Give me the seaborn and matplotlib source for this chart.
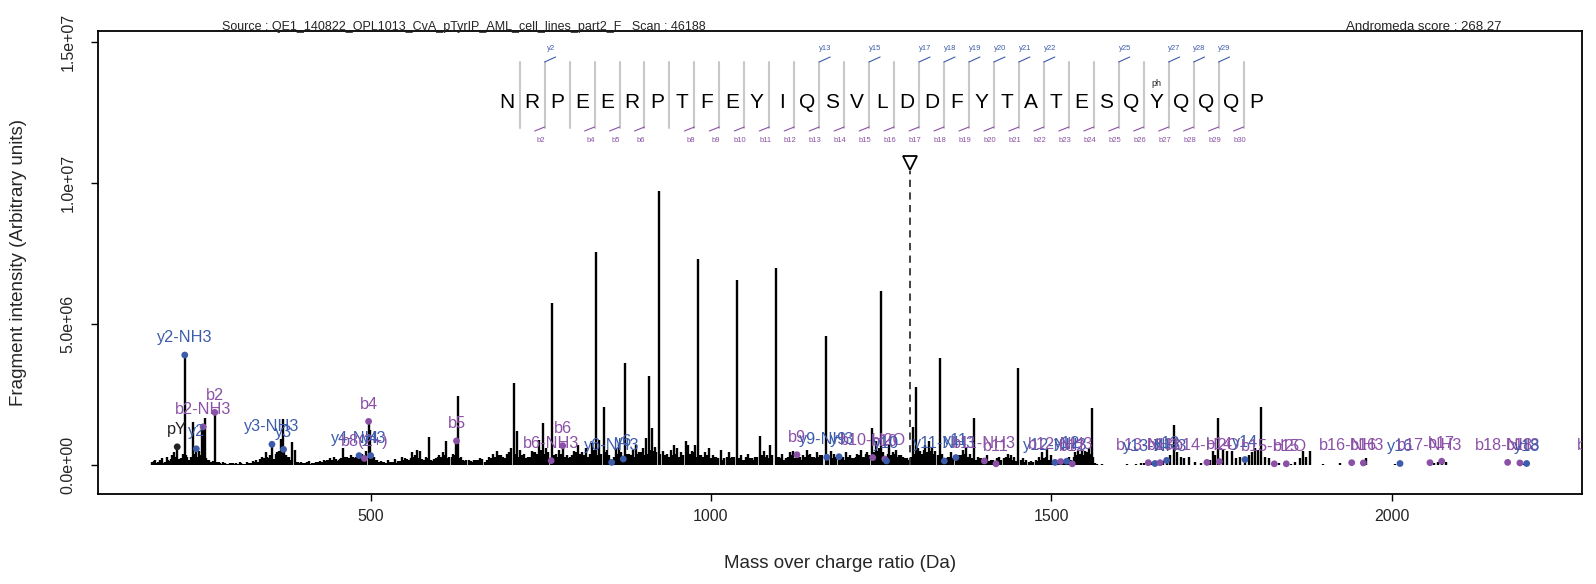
"""
Annotated MS/MS spectrum — phospho-peptide NRPEERPTFEYIQSVLDDFYTATESQpYQQQP
"""

import numpy as np
import pandas as pd
import matplotlib
matplotlib.use("Agg")
import matplotlib.pyplot as plt
import seaborn as sns


# ─────────────────────────────────────────────
#  DATA
# ─────────────────────────────────────────────

source_text = "Source : QE1_140822_OPL1013_CvA_pTyrIP_AML_cell_lines_part2_F   Scan : 46188"
score_text = "Andromeda score : 268.27"

sequence = list("NRPEERPTFEYIQSVLDDFYTATESQYQQQP")
phospho_site = 27                     # residue carrying "ph"
y_sites = [2, 13, 15, 17, 18, 19, 20, 21, 22, 25, 27, 28, 29]
b_sites = [2, 4, 5, 6] + list(range(8, 31))

precursor_mz = 1292.4
precursor_top = 1.04e7

# big unlabelled fragment peaks (m/z, intensity in 1e6)
major_mz = [239.7, 252.5, 256.5, 368.5, 371.5, 385.0, 389.0, 459.0, 499.0, 569.0,
            573.0, 586.0, 611.0, 628.5, 710.4, 715.0, 753.0, 766.6, 830.8, 842.5,
            874.3, 909.6, 914.0, 923.8, 946.0, 963.0, 967.0, 980.6, 1015.0, 1038.0,
            1072.7, 1087.0, 1095.3, 1169.0, 1237.0, 1250.4, 1297.0, 1301.0, 1336.2, 1387.0,
            1451.3, 1486.0, 1494.0, 1550.0, 1555.0, 1559.5, 1680.3, 1690.0, 1737.0, 1744.6,
            1758.0, 1800.0, 1808.7, 1870.0]
major_int = [1.54, 1.40, 1.67, 0.94, 1.62, 0.83, 0.54, 0.60, 1.25, 0.55,
             0.50, 1.00, 0.85, 2.45, 2.90, 1.20, 1.50, 5.73, 7.56, 2.05,
             3.63, 3.16, 1.30, 9.72, 0.70, 0.85, 0.70, 7.29, 0.55, 6.56,
             1.05, 0.70, 6.97, 4.57, 1.30, 6.18, 1.35, 2.76, 3.81, 1.68,
             3.43, 0.45, 0.60, 0.50, 0.60, 2.01, 1.42, 0.30, 0.50, 1.66,
             0.50, 0.60, 2.07, 0.50]

# small background peaks (m/z, intensity in 1e6)
noise_mz = [180, 183, 186, 190, 194, 198, 201, 205, 209, 212,
            219, 224, 231, 235, 248, 259, 263, 266, 275, 279,
            283, 288, 293, 298, 303, 308, 312, 318, 323, 327,
            332, 337, 341, 346, 350, 361, 365, 376, 380, 393,
            398, 404, 409, 414, 420, 426, 431, 436, 441, 446,
            451, 455, 463, 467, 471, 476, 479, 487, 494, 505,
            509, 515, 520, 526, 531, 536, 541, 546, 551, 556,
            561, 565, 577, 581, 591, 596, 601, 606, 616, 621,
            633, 638, 644, 650, 655, 661, 668, 674, 680, 686,
            692, 697, 703, 707, 720, 726, 731, 737, 742, 748,
            758, 772, 777, 788, 793, 799, 805, 811, 816, 822,
            826, 835, 848, 860, 865, 880, 885, 890, 895, 900,
            905, 918, 930, 936, 941, 951, 956, 972, 976, 986,
            992, 997, 1003, 1008, 1020, 1026, 1031, 1045, 1050, 1055,
            1060, 1065, 1078, 1082, 1100, 1105, 1110, 1116, 1121, 1131,
            1136, 1141, 1146, 1151, 1156, 1161, 1176, 1181, 1194, 1199,
            1205, 1210, 1215, 1220, 1225, 1230, 1243, 1247, 1262, 1267,
            1272, 1277, 1282, 1288, 1305, 1310, 1315, 1320, 1325, 1330,
            1340, 1348, 1353, 1365, 1370, 1375, 1380, 1392, 1397, 1406,
            1411, 1424, 1430, 1436, 1441, 1446, 1458, 1463, 1470, 1478,
            1482, 1490, 1499, 1509, 1518, 1526, 1535, 1540, 1545, 1565,
            1575, 1612, 1625, 1632, 1637, 1647, 1664, 1674, 1685, 1695,
            1702, 1712, 1720, 1733, 1740, 1752, 1765, 1772, 1778, 1790,
            1795, 1804, 1814, 1820, 1835, 1852, 1858, 1865, 1874, 1880,
            1900, 1925, 1962, 2005, 2063, 2068, 2080, 2195]
noise_int = [.12, .20, .08, .18, .25, .10, .30, .15, .35, .45,
             .22, .40, .28, .15, .50, .25, .18, .12, .10, .08,
             .12, .06, .09, .07, .08, .10, .06, .12, .07, .15,
             .20, .22, .30, .45, .25, .40, .50, .35, .30, .12,
             .10, .08, .14, .09, .12, .15, .18, .20, .25, .30,
             .15, .22, .30, .20, .35, .25, .28, .40, .50, .30,
             .20, .15, .12, .18, .10, .22, .14, .30, .25, .20,
             .45, .35, .20, .30, .15, .25, .35, .45, .28, .40,
             .30, .15, .20, .12, .18, .25, .10, .30, .40, .50,
             .35, .25, .45, .60, .55, .40, .30, .50, .45, .90,
             .60, .40, .55, .35, .30, .50, .70, .45, .60, .40,
             .80, .90, .55, .60, .75, .40, .55, .70, .45, .60,
             .95, .65, .50, .40, .55, .60, .45, .50, .70, .35,
             .45, .60, .35, .30, .25, .45, .30, .35, .20, .40,
             .25, .30, .50, .35, .30, .40, .25, .45, .50, .30,
             .35, .55, .40, .30, .45, .35, .50, .40, .30, .45,
             .35, .25, .40, .55, .30, .45, .85, .60, .70, .45,
             .55, .35, .30, .25, .60, .40, .70, .85, .65, .50,
             .40, .30, .45, .35, .55, .65, .40, .30, .25, .35,
             .20, .30, .25, .40, .35, .30, .25, .20, .15, .20,
             .30, .25, .35, .15, .20, .30, .45, .50, .55, .08,
             .06, .05, .06, .07, .08, .10, .15, .35, .45, .25,
             .30, .10, .08, .20, .35, .55, .50, .25, .30, .35,
             .45, .55, .30, .25, .08, .06, .10, .25, .30, .50,
             .06, .08, .25, .05, .08, .10, .12, .06]

# denser low-level floor between the peaks above
floor_mz = [178.5, 181.5, 188, 192, 196, 203, 207, 214, 221, 229,
            233, 237, 242, 246, 250, 261, 268, 270, 273, 277,
            281, 286, 291, 296, 301, 306, 310, 315, 320, 325,
            330, 335, 339, 344, 348, 353, 358, 363, 378, 383,
            391, 396, 401, 406, 411, 417, 423, 429, 434, 439,
            444, 449, 453, 457, 461, 465, 469, 474, 481, 485,
            489, 503, 507, 512, 518, 523, 529, 534, 539, 544,
            549, 554, 559, 563, 567, 571, 575, 579, 584, 589,
            594, 599, 603, 608, 614, 619, 624, 631, 636, 641,
            647, 652, 658, 664, 671, 677, 683, 689, 694, 700,
            705, 712, 718, 723, 729, 734, 740, 745, 750, 756,
            761, 769, 775, 780, 785, 791, 796, 802, 808, 813,
            819, 824, 828, 833, 838, 845, 851, 857, 862, 868,
            877, 882, 887, 892, 898, 902, 907, 911, 916, 920,
            926, 933, 938, 943, 949, 953, 959, 969, 974, 978,
            983, 989, 994, 1000, 1006, 1011, 1018, 1023, 1028, 1034,
            1041, 1047, 1052, 1057, 1062, 1068, 1075, 1080, 1085, 1090,
            1098, 1103, 1108, 1113, 1119, 1124, 1129, 1134, 1139, 1144,
            1149, 1154, 1159, 1164, 1172, 1179, 1184, 1191, 1197, 1202,
            1207, 1213, 1218, 1223, 1228, 1233, 1240, 1245, 1253, 1260,
            1265, 1270, 1275, 1280, 1285, 1290, 1294, 1299, 1303, 1308,
            1313, 1318, 1323, 1328, 1333, 1338, 1345, 1350, 1356, 1362,
            1368, 1373, 1378, 1383, 1390, 1395, 1400, 1404, 1409, 1414,
            1421, 1427, 1433, 1439, 1444, 1449, 1455, 1461, 1467, 1473,
            1480, 1484, 1488, 1492, 1497, 1502, 1507, 1512, 1516, 1520,
            1524, 1529, 1533, 1538, 1543, 1548, 1553, 1557, 1562, 1568]
floor_int = [.10, .15, .12, .20, .08, .18, .22, .30, .25, .35,
             .20, .28, .40, .30, .35, .20, .15, .10, .08, .12,
             .06, .08, .05, .07, .06, .05, .08, .06, .09, .07,
             .12, .10, .18, .25, .30, .35, .22, .45, .28, .20,
             .10, .08, .07, .10, .06, .09, .12, .10, .14, .18,
             .20, .22, .18, .25, .20, .28, .24, .30, .25, .35,
             .30, .25, .18, .12, .10, .08, .12, .10, .08, .15,
             .18, .22, .25, .28, .30, .25, .22, .18, .25, .20,
             .22, .28, .30, .35, .25, .30, .35, .25, .20, .18,
             .15, .20, .18, .22, .20, .25, .30, .35, .30, .40,
             .35, .40, .30, .35, .25, .30, .45, .40, .55, .40,
             .45, .35, .30, .40, .30, .25, .35, .45, .40, .35,
             .30, .40, .55, .35, .40, .45, .35, .30, .40, .45,
             .40, .35, .30, .40, .45, .35, .40, .55, .50, .45,
             .40, .35, .30, .35, .40, .30, .35, .40, .45, .30,
             .35, .30, .35, .25, .30, .25, .20, .30, .25, .30,
             .25, .20, .30, .25, .20, .30, .35, .30, .25, .35,
             .30, .25, .20, .30, .35, .25, .30, .20, .30, .35,
             .30, .25, .30, .35, .30, .25, .30, .25, .20, .30,
             .25, .30, .35, .30, .40, .35, .45, .50, .45, .40,
             .35, .40, .30, .35, .25, .20, .30, .40, .45, .50,
             .55, .45, .50, .40, .35, .30, .25, .30, .25, .30,
             .35, .40, .30, .25, .20, .25, .20, .18, .15, .20,
             .25, .20, .30, .25, .20, .15, .18, .12, .10, .12,
             .15, .20, .25, .30, .20, .15, .12, .18, .15, .20,
             .25, .20, .30, .35, .40, .35, .45, .40, .30, .06]

# matched fragment ions
ion_labels = ["pY", "y2-NH3", "y2", "b2-NH3", "b2", "y3-NH3", "y3", "y4-NH3", "b8(2+)", "b4",
              "y4", "b5", "b6-NH3", "b6", "y6-NH3", "y6", "b9", "y9-NH3", "y9", "b10-H2O",
              "b10", "y10", "y11-NH3", "y11", "b11-NH3", "b11", "y12-NH3", "b12-NH3", "y12", "b12",
              "b13-NH3", "y13-NH3", "b13", "y13", "b14-H2O", "b14", "y14", "b15-H2O", "b15", "b16-NH3",
              "b16", "y16", "b17-NH3", "b17", "b18-NH3", "b18", "y18", "b19"]
ion_mz = [216.0, 227.1, 244.1, 254.1, 271.2, 355.2, 372.2, 483.2, 491.0, 497.2,
          500.3, 626.3, 765.4, 782.4, 854.3, 871.3, 1126.5, 1170.4, 1188.3, 1237.8,
          1255.6, 1258.0, 1343.0, 1360.0, 1401.8, 1419.0, 1505.6, 1514.0, 1522.8, 1531.0,
          1642.7, 1652.5, 1660.0, 1669.6, 1728.8, 1747.0, 1784.7, 1827.8, 1845.4, 1941.5,
          1958.6, 2012.5, 2056.5, 2073.7, 2170.6, 2188.6, 2198.5, 2292.0]
ion_int = [0.65, 3.90, 0.58, 1.36, 1.87, 0.74, 0.56, 0.34, 0.24, 1.55,
           0.34, 0.86, 0.16, 0.69, 0.10, 0.22, 0.37, 0.28, 0.30, 0.27,
           0.22, 0.15, 0.15, 0.27, 0.15, 0.05, 0.10, 0.13, 0.14, 0.05,
           0.09, 0.06, 0.09, 0.17, 0.10, 0.13, 0.20, 0.05, 0.05, 0.09,
           0.08, 0.06, 0.09, 0.14, 0.10, 0.08, 0.06, 0.08]

x_ticks = [500, 1000, 1500, 2000]
y_ticks = [0, 5e6, 1e7, 1.5e7]
y_tick_labels = ["0.0e+00", "5.0e+06", "1.0e+07", "1.5e+07"]


# ─────────────────────────────────────────────
#  STYLE
# ─────────────────────────────────────────────

BLUE = "#3d5cab"
PURPLE = "#8b51a7"
ION_COLORS = {"y": BLUE, "b": PURPLE, "i": "#222222"}
W, H = 1596, 584

sns.set_style("white")
plt.rcParams["font.family"] = ["Liberation Sans", "DejaVu Sans"]


def kind_of(label):
    if label.startswith("y"):
        return "y"
    if label.startswith("b"):
        return "b"
    return "i"


def fig_xy(px, py):
    """Pixel position in the 1596x584 picture -> figure fraction."""
    return px / W, 1 - py / H


ions = pd.DataFrame({
    "label": ion_labels,
    "mz": ion_mz,
    "intensity": np.array(ion_int) * 1e6,
})
ions["kind"] = ions["label"].map(kind_of)

peak_mz = np.concatenate([floor_mz, noise_mz, major_mz, ion_mz])
peak_int = np.concatenate([floor_int, noise_int, major_int, ion_int]) * 1e6


# ─────────────────────────────────────────────
#  PLOT
# ─────────────────────────────────────────────

fig = plt.figure(figsize=(W / 100, H / 100), dpi=100)
ax = fig.add_axes([97.7 / W, 1 - 493.7 / H, (1581.7 - 97.7) / W, (493.7 - 30.5) / H])

ax.vlines(peak_mz, 0, peak_int, color="black", lw=1.7)

sns.scatterplot(
    data=ions, x="mz", y="intensity", hue="kind", palette=ION_COLORS,
    s=24, edgecolor="none", legend=False, ax=ax, zorder=3,
)

for _, row in ions.iterrows():
    t = ax.annotate(
        row["label"], (row["mz"], row["intensity"]),
        xytext=(0, 12.5), textcoords="offset points",
        ha="center", va="center", fontsize=11.7,
        color=ION_COLORS[row["kind"]], annotation_clip=False,
    )
    t.set_clip_path(ax.patch)
    t.set_clip_on(True)

# precursor marker
ax.vlines(precursor_mz, 0, precursor_top, color="#333333", lw=1.3, linestyles=(0, (4, 3)))
ax.plot([precursor_mz], [precursor_top + 0.3e6], marker="v", ms=9.5, mfc="white",
        mec="black", mew=1.3, clip_on=False)

ax.set_xlim(99.2, 2279.4)
ax.set_ylim(-1.009e6, 1.539e7)
ax.set_xticks(x_ticks)
ax.set_xticklabels([str(v) for v in x_ticks], fontsize=11.5)
ax.set_yticks(y_ticks)
ax.set_yticklabels(y_tick_labels, rotation=90, va="center", fontsize=11.5)
ax.tick_params(axis="both", direction="out", length=5, width=1, color="black",
               bottom=True, left=True)
ax.tick_params(axis="x", pad=6)
ax.tick_params(axis="y", pad=11)
for sp in ax.spines.values():
    sp.set_visible(True)
    sp.set_color("black")
    sp.set_linewidth(1.3)

ax.set_xlabel("Mass over charge ratio (Da)", fontsize=13.5, labelpad=22)
ax.set_ylabel("Fragment intensity (Arbitrary units)", fontsize=13.5, labelpad=24)

# header
fig.text(*fig_xy(222, 27), source_text, ha="left", va="center", fontsize=9,
         family=["Liberation Sans Narrow", "Liberation Sans"])
fig.text(*fig_xy(1501, 27), score_text, ha="right", va="center", fontsize=9.5)

# ─────────────────────────────────────────────
#  PEPTIDE SEQUENCE WITH FRAGMENT LADDER
# ─────────────────────────────────────────────

seq_x0, seq_step = 507.2, 24.96
sep_top, sep_bottom, letter_y = 62, 128, 102

for i, aa in enumerate(sequence):
    fig.text(*fig_xy(seq_x0 + i * seq_step, letter_y), aa, ha="center", va="center",
             fontsize=15, color="black")
fig.text(*fig_xy(seq_x0 + (phospho_site - 1) * seq_step, 84), "ph", ha="center",
         va="center", fontsize=6.5, color="#222222")

for k in range(1, len(sequence)):
    sx = seq_x0 + (k - 0.5) * seq_step
    (x0, y0), (x1, y1) = fig_xy(sx, sep_top), fig_xy(sx, sep_bottom)
    fig.add_artist(plt.Line2D([x0, x1], [y0, y1], color="#c8c8c8", lw=1.5))

for k in y_sites:
    sx = seq_x0 + (k - 0.5) * seq_step
    (x0, y0), (x1, y1) = fig_xy(sx, sep_top), fig_xy(sx + 11, sep_top - 5)
    fig.add_artist(plt.Line2D([x0, x1], [y0, y1], color=BLUE, lw=0.8))
    fig.text(*fig_xy(sx + 6, 48.5), f"y{k}", ha="center", va="center",
             fontsize=5.5, color=BLUE)

for k in b_sites:
    sx = seq_x0 + (k - 0.5) * seq_step
    (x0, y0), (x1, y1) = fig_xy(sx - 10, sep_bottom + 3), fig_xy(sx, sep_bottom - 1)
    fig.add_artist(plt.Line2D([x0, x1], [y0, y1], color=PURPLE, lw=0.8))
    fig.text(*fig_xy(sx - 4, 141), f"b{k}", ha="center", va="center",
             fontsize=5.5, color=PURPLE)

plt.savefig("out.png", dpi=100)
plt.close()
